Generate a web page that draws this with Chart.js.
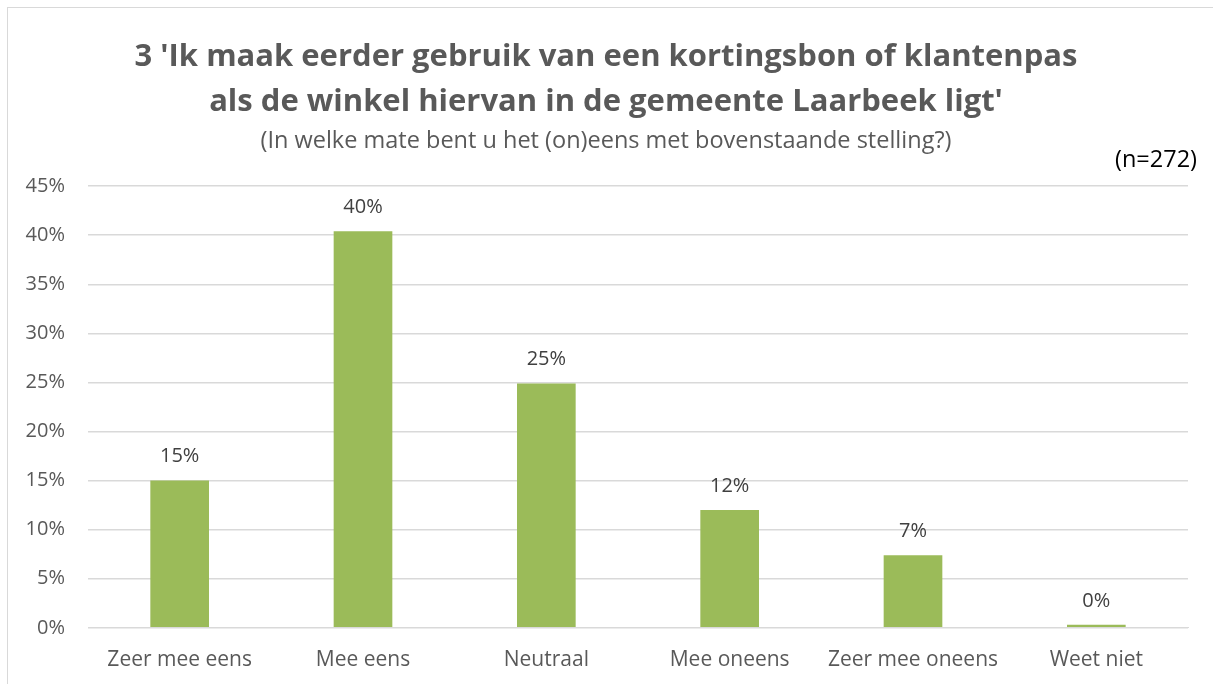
<!DOCTYPE html>
<html>
<head>
<meta charset="utf-8">
<script src="https://cdn.jsdelivr.net/npm/chart.js@4.4.0/dist/chart.umd.min.js"></script>
<style>
    html, body { margin: 0; padding: 0; background: #fff; overflow: hidden; }
    #wrap {
        position: absolute; left: 7px; top: 7px;
        width: 1210px; height: 677px;
        border-left: 1px solid #d9d9d9; border-top: 1px solid #d9d9d9;
    }
</style>
</head>
<body>
<div id="wrap"><canvas id="chart"></canvas></div>
<script>
    // Gegevens uit de grafiek
    const categories = ['Zeer mee eens', 'Mee eens', 'Neutraal', 'Mee oneens', 'Zeer mee oneens', 'Weet niet'];
    const percentages = [15.0, 40.4, 24.9, 12.0, 7.4, 0.3];
    const valueLabels = ['15%', '40%', '25%', '12%', '7%', '0%'];
    const titleLines = ["3 'Ik maak eerder gebruik van een kortingsbon of klantenpas", "als de winkel hiervan in de gemeente Laarbeek ligt'"];
    const subtitleText = '(In welke mate bent u het (on)eens met bovenstaande stelling?)';
    const sampleText = '(n=272)';

    const fontFamily = "'Open Sans', 'Noto Sans', sans-serif";
    const textColor = '#595959';

    // Waarden boven de staven tekenen
    const valueLabelPlugin = {
        id: 'valueLabels',
        afterDatasetsDraw(chart) {
            const ctx = chart.ctx;
            const meta = chart.getDatasetMeta(0);
            ctx.save();
            ctx.font = `20px ${fontFamily}`;
            ctx.fillStyle = '#404040';
            ctx.textAlign = 'center';
            ctx.textBaseline = 'bottom';
            meta.data.forEach((bar, i) => {
                ctx.fillText(valueLabels[i], bar.x, bar.y - 14);
            });
            ctx.restore();
        }
    };

    // (n=272) rechtsboven
    const sampleSizePlugin = {
        id: 'sampleSize',
        afterDraw(chart) {
            const ctx = chart.ctx;
            ctx.save();
            ctx.font = `23.5px ${fontFamily}`;
            ctx.fillStyle = '#000';
            ctx.textAlign = 'right';
            ctx.textBaseline = 'middle';
            ctx.fillText(sampleText, 1189, 152);
            ctx.restore();
        }
    };

    new Chart(document.getElementById('chart'), {
        type: 'bar',
        data: {
            labels: categories,
            datasets: [{
                data: percentages,
                backgroundColor: '#9bbb59',
                borderWidth: 0,
                barPercentage: 0.32,
                categoryPercentage: 1.0
            }]
        },
        options: {
            responsive: true,
            maintainAspectRatio: false,
            animation: false,
            layout: { padding: { left: 16, right: 30, top: 8, bottom: 0 } },
            plugins: {
                legend: { display: false },
                tooltip: { enabled: false },
                title: {
                    display: true,
                    text: titleLines,
                    color: textColor,
                    font: { family: fontFamily, size: 31, weight: 'bold', lineHeight: 1.45 },
                    padding: { top: 19, bottom: 2 }
                },
                subtitle: {
                    display: true,
                    text: subtitleText,
                    color: textColor,
                    font: { family: fontFamily, size: 23.5 },
                    padding: { top: 0, bottom: 31 }
                }
            },
            scales: {
                x: {
                    grid: { display: false },
                    border: { color: '#d9d9d9' },
                    ticks: { color: textColor, font: { family: fontFamily, size: 21 }, padding: 12 }
                },
                y: {
                    min: 0,
                    max: 45,
                    afterFit: scale => { scale.width = 64; },
                    ticks: {
                        stepSize: 5,
                        color: textColor,
                        font: { family: fontFamily, size: 20 },
                        padding: 23,
                        callback: v => v + '%'
                    },
                    grid: { color: '#d9d9d9', lineWidth: 1.5, drawTicks: false },
                    border: { display: false }
                }
            }
        },
        plugins: [valueLabelPlugin, sampleSizePlugin]
    });
</script>
</body>
</html>
